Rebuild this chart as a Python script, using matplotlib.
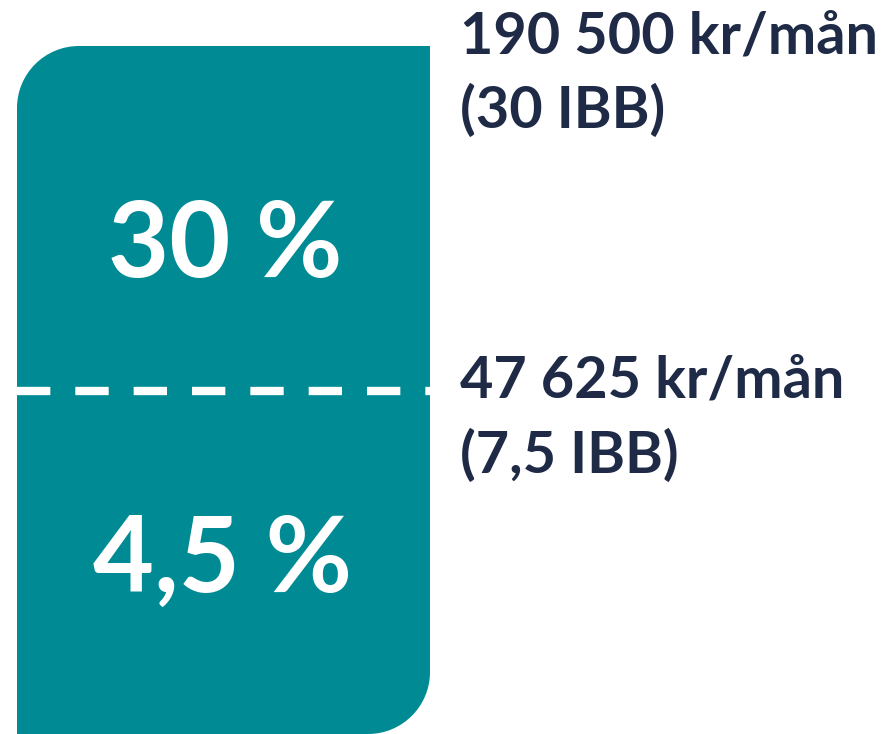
import matplotlib
matplotlib.use("Agg")
import matplotlib.pyplot as plt
from matplotlib.path import Path
from matplotlib.patches import PathPatch

# tiers of the bar (bottom to top) and threshold labels
tier_labels = ["4,5 %", "30 %"]
threshold_amounts = ["47 625 kr/mån", "190 500 kr/mån"]
threshold_ibb = ["(7,5 IBB)", "(30 IBB)"]

teal = "#008B94"
navy = "#1F2B46"

fig = plt.figure(figsize=(8.91, 7.34), dpi=100)
ax = fig.add_axes([0, 0, 1, 1])
ax.set_xlim(0, 891)
ax.set_ylim(734, 0)
ax.axis("off")

# bar box in pixel coords
left, right, top, bottom = 17, 430, 46, 734
r = 62
mid = 391  # boundary between tiers
k = 0.5523  # bezier circle approximation

verts = [
    (left, bottom),
    (left, top + r),
    (left, top + r - k * r), (left + r - k * r, top), (left + r, top),
    (right, top),
    (right, bottom - r),
    (right, bottom - r + k * r), (right - r + k * r, bottom), (right - r, bottom),
    (left, bottom),
    (left, bottom),
]
codes = [Path.MOVETO, Path.LINETO,
         Path.CURVE4, Path.CURVE4, Path.CURVE4,
         Path.LINETO, Path.LINETO,
         Path.CURVE4, Path.CURVE4, Path.CURVE4,
         Path.LINETO, Path.CLOSEPOLY]
ax.add_patch(PathPatch(Path(verts, codes), facecolor=teal, edgecolor="none"))

# dashed boundary line
ax.plot([left, right], [mid, mid], color="white", lw=6,
        dashes=(32 / 6 * 0.75, 24 / 6 * 0.75), dash_capstyle="butt")

font = "Lato"
tier_base = [mid + 201, top + 231]
tier_x = [223, 225]
for lab, x, y in zip(tier_labels, tier_x, tier_base):
    ax.text(x, y, lab, color="white", fontsize=76,
            fontweight="bold", family=font, ha="center", va="baseline")

thr_y = [mid, top]
for amt, ibb, y in zip(threshold_amounts, threshold_ibb, thr_y):
    ax.text(460, y + 7, amt, color=navy, fontsize=41.5, fontweight="bold",
            family=font, ha="left", va="baseline")
    ax.text(460, y + 82, ibb, color=navy, fontsize=41.5, fontweight="bold",
            family=font, ha="left", va="baseline")

fig.savefig("out.png", dpi=100)
